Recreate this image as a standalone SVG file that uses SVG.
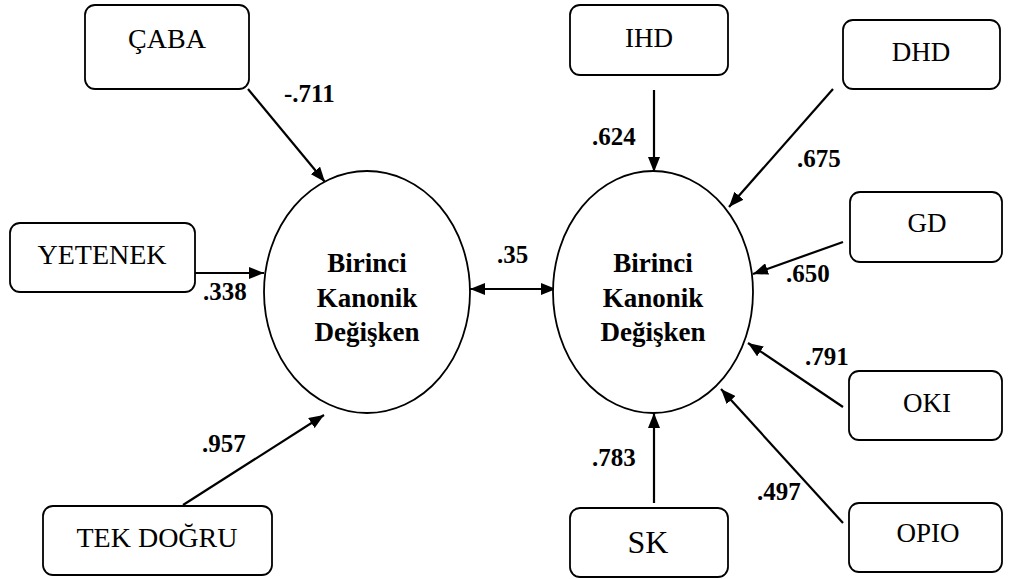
<svg xmlns="http://www.w3.org/2000/svg" width="1024" height="579" viewBox="0 0 1024 579">
<style>
.box{fill:#fff;stroke:#000;stroke-width:1.8}
.ell{fill:#fff;stroke:#000;stroke-width:1.8}
.bl{font-size:27px;fill:#000;text-anchor:middle}
.el{font-size:27px;font-weight:bold;fill:#000;text-anchor:middle}
.lab{font-size:25px;font-weight:bold;fill:#000}
.c{stroke:#000;stroke-width:2.2;fill:none;marker-end:url(#ah)}
</style>
<defs>
<marker id="ah" markerUnits="userSpaceOnUse" markerWidth="16" markerHeight="12" refX="15" refY="6" orient="auto-start-reverse">
<path d="M0,0 L15,6 L0,12 z" fill="#000"/>
</marker>
</defs>
<rect width="1024" height="579" fill="#fff"/>
<g id="connectors">
<line class="c" x1="248" y1="89" x2="325" y2="182"/>
<line class="c" x1="195" y1="273" x2="264" y2="273"/>
<line class="c" x1="183" y1="505" x2="324" y2="415"/>
<line class="c" x1="470" y1="289" x2="556" y2="289" style="marker-start:url(#ah)"/>
<line class="c" x1="654" y1="90" x2="654" y2="172"/>
<line class="c" x1="833" y1="89" x2="729" y2="207"/>
<line class="c" x1="843" y1="242" x2="753" y2="274"/>
<line class="c" x1="843" y1="407" x2="748" y2="343"/>
<line class="c" x1="843" y1="523" x2="721" y2="389"/>
<line class="c" x1="654" y1="503" x2="654" y2="413"/>
</g>
<g id="labels">
<text class="lab" style="font-family:'Liberation Serif',serif" x="284" y="102">-.711</text>
<text class="lab" style="font-family:'Liberation Serif',serif" x="203" y="300">.338</text>
<text class="lab" style="font-family:'Liberation Serif',serif" x="202" y="452">.957</text>
<text class="lab" style="font-family:'Liberation Serif',serif" x="497" y="263">.35</text>
<text class="lab" style="font-family:'Liberation Serif',serif" x="592" y="145">.624</text>
<text class="lab" style="font-family:'Liberation Serif',serif" x="797" y="167">.675</text>
<text class="lab" style="font-family:'Liberation Serif',serif" x="786" y="282">.650</text>
<text class="lab" style="font-family:'Liberation Serif',serif" x="805" y="365">.791</text>
<text class="lab" style="font-family:'Liberation Serif',serif" x="757" y="500">.497</text>
<text class="lab" style="font-family:'Liberation Serif',serif" x="592" y="466">.783</text>
</g>
<g id="caba"><rect class="box" x="85" y="5" width="164" height="84" rx="10"/><text class="bl" x="167" y="48" style="font-family:'Liberation Serif',serif;font-size:28px">ÇABA</text></g>
<g id="yetenek"><rect class="box" x="10" y="223" width="185" height="69" rx="10"/><text class="bl" x="102" y="264" style="font-family:'Liberation Serif',serif;font-size:28px">YETENEK</text></g>
<g id="tekdogru"><rect class="box" x="43" y="506" width="229" height="69" rx="10"/><text class="bl" x="157" y="547" style="font-family:'Liberation Serif',serif;font-size:28px">TEK DOĞRU</text></g>
<g id="left-latent"><ellipse class="ell" cx="367" cy="292" rx="103" ry="121"/>
<text class="el" style="font-family:'Liberation Serif',serif" x="367" y="272">Birinci</text><text class="el" style="font-family:'Liberation Serif',serif" x="367" y="307">Kanonik</text><text class="el" style="font-family:'Liberation Serif',serif" x="367" y="341">Değişken</text></g>
<g id="right-latent"><ellipse class="ell" cx="653" cy="292" rx="100" ry="121"/>
<text class="el" style="font-family:'Liberation Serif',serif" x="653" y="272">Birinci</text><text class="el" style="font-family:'Liberation Serif',serif" x="653" y="307">Kanonik</text><text class="el" style="font-family:'Liberation Serif',serif" x="653" y="341">Değişken</text></g>
<g id="ihd"><rect class="box" x="570" y="5" width="158" height="70" rx="10"/><text class="bl" style="font-family:'Liberation Serif',serif" x="649" y="47">IHD</text></g>
<g id="dhd"><rect class="box" x="843" y="20" width="157" height="69" rx="10"/><text class="bl" style="font-family:'Liberation Serif',serif" x="921" y="61">DHD</text></g>
<g id="gd"><rect class="box" x="850" y="192" width="152" height="70" rx="10"/><text class="bl" style="font-family:'Liberation Serif',serif" x="927" y="232">GD</text></g>
<g id="oki"><rect class="box" x="849" y="371" width="153" height="69" rx="10"/><text class="bl" style="font-family:'Liberation Serif',serif" x="927" y="412">OKI</text></g>
<g id="opio"><rect class="box" x="849" y="503" width="153" height="69" rx="10"/><text class="bl" style="font-family:'Liberation Serif',serif" x="928" y="542">OPIO</text></g>
<g id="sk"><rect class="box" x="570" y="508" width="158" height="69" rx="10"/><text class="bl" x="648" y="553" style="font-family:'Liberation Serif',serif;font-size:32px">SK</text></g>
</svg>
